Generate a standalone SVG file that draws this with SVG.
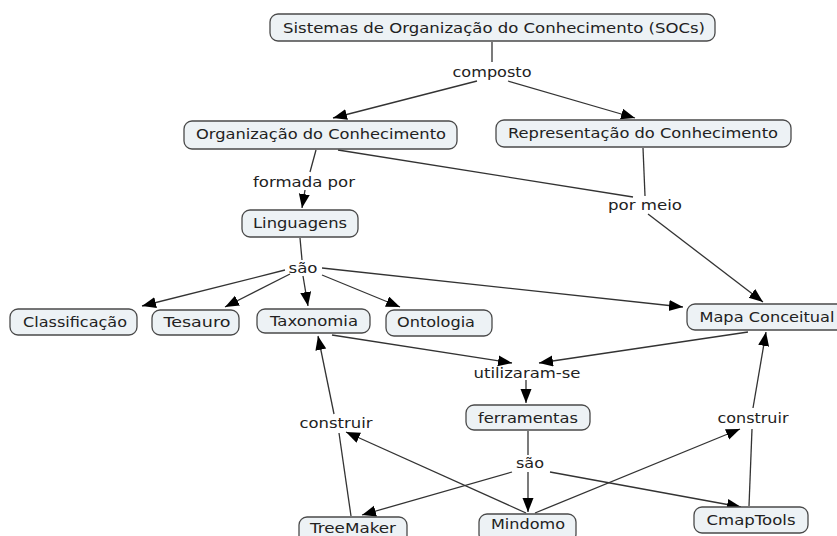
<svg xmlns="http://www.w3.org/2000/svg" width="837" height="536" viewBox="0 0 837 536">
<style>
.n rect{fill:#edf2f5;stroke:#4a4a4a;stroke-width:1.3}
text{font-family:"DejaVu Sans","Verdana",sans-serif;font-size:14.5px;fill:#222;text-anchor:middle}
.c line{stroke:#333;stroke-width:1.3}
.c .a{marker-end:url(#ah)}
</style>
<defs>
<marker id="ah" markerUnits="userSpaceOnUse" markerWidth="15" markerHeight="12" refX="14" refY="5.5" orient="auto" viewBox="0 0 15 12">
<path d="M0,0 L14,5.5 L0,11 z" fill="#000"/>
</marker>
</defs>
<rect width="837" height="536" fill="#fff"/>
<g class="c" id="connectors">
<line x1="492" y1="42" x2="492" y2="62"/>
<line class="a" x1="477" y1="81" x2="333" y2="118"/>
<line class="a" x1="508" y1="81" x2="635" y2="118"/>
<line x1="316" y1="150" x2="310" y2="172"/>
<line class="a" x1="305" y1="190" x2="302" y2="208"/>
<line x1="338" y1="150" x2="633" y2="197"/>
<line x1="643" y1="148" x2="645" y2="196"/>
<line class="a" x1="648" y1="214" x2="763" y2="302"/>
<line x1="300" y1="238" x2="302" y2="260"/>
<line class="a" x1="285" y1="270" x2="142" y2="306"/>
<line class="a" x1="290" y1="274" x2="225" y2="307"/>
<line class="a" x1="303" y1="276" x2="308" y2="306"/>
<line class="a" x1="322" y1="275" x2="400" y2="307"/>
<line class="a" x1="322" y1="268" x2="683" y2="307"/>
<line class="a" x1="332" y1="335" x2="512" y2="363"/>
<line class="a" x1="748" y1="332" x2="539" y2="363"/>
<line class="a" x1="526" y1="380" x2="526" y2="403"/>
<line x1="528" y1="431" x2="528" y2="455"/>
<line class="a" x1="512" y1="472" x2="362" y2="515"/>
<line class="a" x1="528" y1="472" x2="528" y2="512"/>
<line class="a" x1="550" y1="472" x2="741" y2="507"/>
<line x1="351" y1="516" x2="339" y2="433"/>
<line class="a" x1="334" y1="414" x2="318" y2="336"/>
<line class="a" x1="526" y1="513" x2="346" y2="432"/>
<line class="a" x1="535" y1="513" x2="740" y2="429"/>
<line x1="749" y1="506" x2="752" y2="429"/>
<line class="a" x1="753" y1="408" x2="766" y2="332"/>
</g>
<g id="labels">
<text x="492" y="77" textLength="79" lengthAdjust="spacingAndGlyphs">composto</text>
<text x="304" y="187" textLength="102" lengthAdjust="spacingAndGlyphs">formada por</text>
<text x="645" y="210" textLength="74" lengthAdjust="spacingAndGlyphs">por meio</text>
<text x="303" y="273" textLength="29" lengthAdjust="spacingAndGlyphs">são</text>
<text x="527" y="378" textLength="107" lengthAdjust="spacingAndGlyphs">utilizaram-se</text>
<text x="530" y="468" textLength="28" lengthAdjust="spacingAndGlyphs">são</text>
<text x="336" y="428" textLength="73" lengthAdjust="spacingAndGlyphs">construir</text>
<text x="753" y="423" textLength="71" lengthAdjust="spacingAndGlyphs">construir</text>
</g>
<g class="n" id="n-socs"><rect x="270" y="14" width="445" height="27" rx="8"/><text x="494" y="33" textLength="422" lengthAdjust="spacingAndGlyphs">Sistemas de Organização do Conhecimento (SOCs)</text></g>
<g class="n" id="n-org"><rect x="184" y="121" width="273" height="28" rx="8"/><text x="321" y="139" textLength="250" lengthAdjust="spacingAndGlyphs">Organização do Conhecimento</text></g>
<g class="n" id="n-rep"><rect x="496" y="120" width="295" height="27" rx="8"/><text x="643" y="138" textLength="270" lengthAdjust="spacingAndGlyphs">Representação do Conhecimento</text></g>
<g class="n" id="n-ling"><rect x="242" y="210" width="116" height="27" rx="8"/><text x="300" y="228" textLength="94" lengthAdjust="spacingAndGlyphs">Linguagens</text></g>
<g class="n" id="n-class"><rect x="10" y="309" width="127" height="26" rx="8"/><text x="75" y="327" textLength="104" lengthAdjust="spacingAndGlyphs">Classificação</text></g>
<g class="n" id="n-tes"><rect x="152" y="310" width="87" height="25" rx="8"/><text x="197" y="327" textLength="67" lengthAdjust="spacingAndGlyphs">Tesauro</text></g>
<g class="n" id="n-tax"><rect x="257" y="309" width="113" height="24" rx="8"/><text x="314" y="326" textLength="88" lengthAdjust="spacingAndGlyphs">Taxonomia</text></g>
<g class="n" id="n-ont"><rect x="386" y="310" width="106" height="26" rx="8"/><text x="436" y="327" textLength="78" lengthAdjust="spacingAndGlyphs">Ontologia</text></g>
<g class="n" id="n-mapa"><rect x="687" y="304" width="165" height="26" rx="8"/><text x="767" y="322" textLength="135" lengthAdjust="spacingAndGlyphs">Mapa Conceitual</text></g>
<g class="n" id="n-ferr"><rect x="466" y="405" width="124" height="25" rx="8"/><text x="528" y="423" textLength="100" lengthAdjust="spacingAndGlyphs">ferramentas</text></g>
<g class="n" id="n-tree"><rect x="299" y="517" width="108" height="28" rx="8"/><text x="353" y="533" textLength="86" lengthAdjust="spacingAndGlyphs">TreeMaker</text></g>
<g class="n" id="n-mind"><rect x="479" y="514" width="97" height="28" rx="8"/><text x="528" y="529" textLength="74" lengthAdjust="spacingAndGlyphs">Mindomo</text></g>
<g class="n" id="n-cmap"><rect x="694" y="507" width="114" height="26" rx="8"/><text x="751" y="525" textLength="89" lengthAdjust="spacingAndGlyphs">CmapTools</text></g>
</svg>
